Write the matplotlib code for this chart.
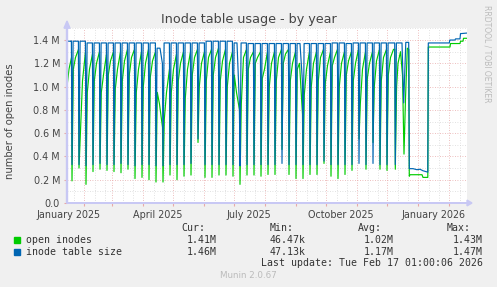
# graphe munin : usage de la table des inodes, par an
import numpy as np
import pandas as pd
import matplotlib
matplotlib.use("Agg")
import matplotlib.pyplot as plt

# origine de l'axe des temps (bord gauche du graphe)
debut = pd.Timestamp("2025-01-15")

# chutes hebdomadaires (le lundi)
chutes = pd.date_range("2025-01-20", periods=46, freq="7D")

# valeurs par cycle, en millions
b_top = [1.39, 1.39, 1.375, 1.375, 1.375, 1.375, 1.375, 1.375, 1.375, 1.375,
         1.375, 1.375, 1.33, 1.375, 1.375, 1.375, 1.375, 1.375, 1.375, 1.39,
         1.39, 1.39, 1.39, 1.375, 1.375, 1.37, 1.37, 1.37, 1.37, 1.37,
         1.37, 1.37, 1.37, 1.37, 1.37, 1.37, 1.37, 1.375, 1.375, 1.37,
         1.375, 1.375, 1.375, 1.375, 1.375, 1.375]
b_late = [1.39, 1.39, 1.375, 1.375, 1.375, 1.375, 1.375, 1.375, 1.375, 1.375,
          1.375, 1.375, 1.20, 1.375, 1.375, 1.375, 1.375, 1.375, 1.375, 1.39,
          1.39, 1.39, 1.39, 0.85, 1.375, 1.37, 1.37, 1.37, 1.37, 1.37,
          1.37, 1.37, 1.05, 1.37, 1.37, 1.37, 1.37, 1.375, 1.375, 1.37,
          1.375, 1.375, 1.375, 1.375, 1.375, 1.375]
b_low = [0.33, 0.33, 0.32, 0.33, 0.34, 0.33, 0.33, 0.34, 0.33, 0.32,
         0.33, 0.33, 0.32, 0.32, 0.33, 0.33, 0.33, 0.34, 0.55, 0.33,
         0.33, 0.33, 0.33, 0.33, 0.32, 0.33, 0.33, 0.33, 0.33, 0.33,
         0.34, 0.33, 0.33, 0.33, 0.33, 0.33, 0.36, 0.33, 0.33, 0.33,
         0.33, 0.34, 0.33, 0.34, 0.33, 0.33]

g_low = [0.19, 0.30, 0.16, 0.27, 0.29, 0.28, 0.27, 0.26, 0.29, 0.21,
         0.22, 0.20, 0.18, 0.18, 0.24, 0.20, 0.23, 0.24, 0.52, 0.22,
         0.22, 0.24, 0.24, 0.23, 0.16, 0.24, 0.24, 0.23, 0.245, 0.245,
         0.46, 0.245, 0.21, 0.21, 0.245, 0.245, 0.34, 0.23, 0.21, 0.245,
         0.28, 0.55, 0.29, 0.52, 0.29, 0.28]
g_start = [1.15, 0.57, 0.95, 1.05, 0.95, 1.10, 0.98, 1.05, 1.10, 0.95,
           1.00, 1.08, 0.95, 0.72, 0.95, 1.05, 0.90, 1.10, 1.00, 1.05,
           1.10, 1.05, 1.00, 1.10, 0.85, 1.15, 1.20, 1.07, 1.00, 1.05,
           1.20, 1.05, 1.15, 0.93, 1.00, 1.05, 1.03, 1.18, 1.00, 1.10,
           1.05, 0.85, 1.07, 1.00, 1.05, 1.10]
g_mid = [1.25, 1.05, 1.15, 1.20, 1.10, 1.22, 1.15, 1.22, 1.25, 1.15,
         1.20, 1.22, 0.85, 0.95, 1.15, 1.20, 1.15, 1.25, 1.20, 1.25,
         1.25, 1.22, 1.20, 0.95, 1.25, 1.25, 1.25, 1.15, 1.20, 1.25,
         1.28, 1.20, 1.20, 1.15, 1.20, 1.25, 1.18, 1.25, 1.20, 1.22,
         1.20, 1.15, 1.20, 1.22, 1.25, 1.25]
g_late = [1.32, 1.30, 1.28, 1.30, 1.28, 1.30, 1.30, 1.32, 1.32, 1.30,
          1.32, 1.30, 0.65, 1.15, 1.28, 1.30, 1.30, 1.32, 1.30, 1.32,
          1.33, 1.32, 1.30, 0.80, 1.32, 1.30, 1.30, 1.30, 1.30, 1.32,
          1.32, 1.30, 0.76, 1.30, 1.30, 1.32, 1.30, 1.32, 1.30, 1.30,
          1.32, 1.30, 1.30, 1.32, 1.32, 1.32]

# debut et fin de la periode (jours depuis le 15 janvier 2025)
tete_jours = [0.0, 2.0, 4.5]
tete_bleu = [1.39, 1.39, 1.39]
tete_vert = [1.00, 1.15, 1.25]

fin_jours_b = [327.7, 328.3, 329.4, 335.0, 336.7, 338.8, 341.7, 342.3, 346, 350,
               353, 356, 359, 360.8, 361.3, 382.3, 382.8, 388, 388.5, 393,
               393.5, 400]
fin_bleu = [1.375, 0.33, 1.375, 1.375, 0.86, 1.38, 1.38, 0.295, 0.295, 0.286,
            0.29, 0.277, 0.27, 0.265, 1.375, 1.375, 1.40, 1.40, 1.41, 1.41,
            1.455, 1.46]
fin_jours_g = [327.8, 328.3, 329.6, 331, 333.5, 335.5, 337, 338.5, 340.3, 341.8,
               342.3, 343, 355, 356, 360.8, 361.3, 383, 383.5, 393, 393.5,
               396, 396.5, 400]
fin_vert = [1.32, 0.29, 1.00, 1.20, 1.30, 1.10, 0.42, 0.90, 1.33, 1.32,
            0.23, 0.243, 0.243, 0.22, 0.22, 1.34, 1.34, 1.37, 1.37, 1.39,
            1.39, 1.415, 1.415]

legende = ["open inodes", "inode table size"]
couleurs = ["#00CC00", "#0066B3"]
cur = ["1.41M", "1.46M"]
mini = ["46.47k", "47.13k"]
moy = ["1.02M", "1.17M"]
maxi = ["1.43M", "1.47M"]
y_ticks = [0.0, 0.2, 0.4, 0.6, 0.8, 1.0, 1.2, 1.4]
y_labels = ["0.0", "0.2 M", "0.4 M", "0.6 M", "0.8 M", "1.0 M", "1.2 M", "1.4 M"]
x_labels = ["January 2025", "April 2025", "July 2025", "October 2025", "January 2026"]
x_label_dates = ["2025-01-16", "2025-04-16", "2025-07-16", "2025-10-16", "2026-01-16"]

# construction des courbes
def jour(d):
    return (pd.Timestamp(d) - debut) / pd.Timedelta(days=1)

xb, yb = list(tete_jours), list(tete_bleu)
xg, yg = list(tete_jours), list(tete_vert)
for k, c in enumerate(chutes):
    d = jour(c)
    xb += [d - 0.6, d, d + 1.1, d + 4.0, d + 6.4]
    yb += [yb[-1], b_low[k], b_top[k], b_top[k], b_late[k]]
    xg += [d, d + 1.3, d + 3.5, d + 6.5]
    yg += [g_low[k], g_start[k], g_mid[k], g_late[k]]
xb += fin_jours_b
yb += fin_bleu
xg += fin_jours_g
yg += fin_vert

W, H = 497, 287
fig = plt.figure(figsize=(W / 100, H / 100), dpi=100)
fig.patch.set_facecolor("#F0F0F0")

x0, x1, y0, y1 = 67, 467, 203, 28.4
ax = fig.add_axes([x0 / W, 1 - y0 / H, (x1 - x0) / W, (y0 - y1) / H])
ax.set_facecolor("white")
ax.set_xlim(0, 400)
ax.set_ylim(0, 1.5)

# grille
gris = "#D8D8D8"
rouge = "#E8A8A8"
for v in np.arange(0.1, 1.51, 0.2):
    ax.axhline(v, color=gris, lw=0.6, ls=(0, (1, 2)), zorder=1)
for v in y_ticks[1:]:
    ax.axhline(v, color=rouge, lw=0.6, ls=(0, (1, 2)), zorder=1)
mois = pd.date_range("2025-02-01", "2026-02-01", freq="MS")
for m in list(mois) + [pd.Timestamp("2026-03-01")]:
    for j in (11, 21):
        dj = jour(m - pd.DateOffset(months=1) + pd.Timedelta(days=j))
        if 0 < dj < 400:
            ax.axvline(dj, color=gris, lw=0.6, ls=(0, (1, 2)), zorder=1)
for m in mois:
    ax.axvline(jour(m), color=rouge, lw=0.6, ls=(0, (1, 2)), zorder=1)

# courbes
ax.plot(xg, yg, color=couleurs[0], lw=0.85, zorder=3)
ax.plot(xb, yb, color=couleurs[1], lw=0.85, zorder=4)

for s in ax.spines.values():
    s.set_visible(False)
ax.set_yticks(y_ticks, y_labels)
ax.set_xticks([jour(m) for m in mois], [""] * len(mois))
ax.set_xticks([jour(d) for d in x_label_dates], x_labels, minor=True)
ax.tick_params(axis="y", length=2, color=rouge, labelsize=6.9, labelcolor="#444444", pad=3)
ax.tick_params(axis="x", which="major", length=2, color=rouge)
ax.tick_params(axis="x", which="minor", length=0, labelsize=6.9, labelcolor="#444444", pad=5)

# axes avec fleches
axe = "#C8C8F4"
fig.add_artist(matplotlib.patches.FancyArrow(x0 / W, 1 - y0 / H, (x1 + 5 - x0) / W, 0,
               width=0.001, head_width=0.02, head_length=0.01, color=axe, length_includes_head=True))
fig.add_artist(matplotlib.patches.FancyArrow(x0 / W, 1 - y0 / H, 0, (y0 - 21) / H,
               width=0.002, head_width=0.012, head_length=0.025, color=axe, length_includes_head=True))

def px(x, y):
    return x / W, 1 - y / H

fig.text(*px(248.5, 19), "Inode table usage - by year", ha="center", va="center",
         fontsize=9.2, color="#444444")
fig.text(*px(10, 121), "number of open inodes", rotation=90, ha="center", va="center",
         fontsize=7.2, color="#444444")
fig.text(*px(487, 5), "RRDTOOL / TOBI OETIKER", rotation=270, ha="center", va="top",
         fontsize=5.5, color="#BBBBBB")

mono = dict(family="DejaVu Sans Mono", fontsize=7.1, color="#333333", va="center")
yl = 228
for t, xx in zip(["Cur:", "Min:", "Avg:", "Max:"], [181, 269.3, 357.7, 446.7]):
    fig.text(*px(xx, yl), t, ha="left", **mono)
for i, nom in enumerate(legende):
    yy = 240 + 12 * i
    fig.add_artist(matplotlib.patches.Rectangle(px(14, yy + 2.8), 5.5 / W, 5.5 / H,
                                                color=couleurs[i]))
    fig.text(*px(26, yy), nom, ha="left", **mono)
    for t, xx in zip([cur[i], mini[i], moy[i], maxi[i]], [217, 306, 394, 483]):
        fig.text(*px(xx, yy), t, ha="right", **mono)
fig.text(*px(483, 263.5), "Last update: Tue Feb 17 01:00:06 2026", ha="right", **mono)
fig.text(*px(248, 276), "Munin 2.0.67", ha="center", va="center", fontsize=6.3, color="#BBBBBB")

plt.savefig("out.png", dpi=100, facecolor=fig.get_facecolor())
